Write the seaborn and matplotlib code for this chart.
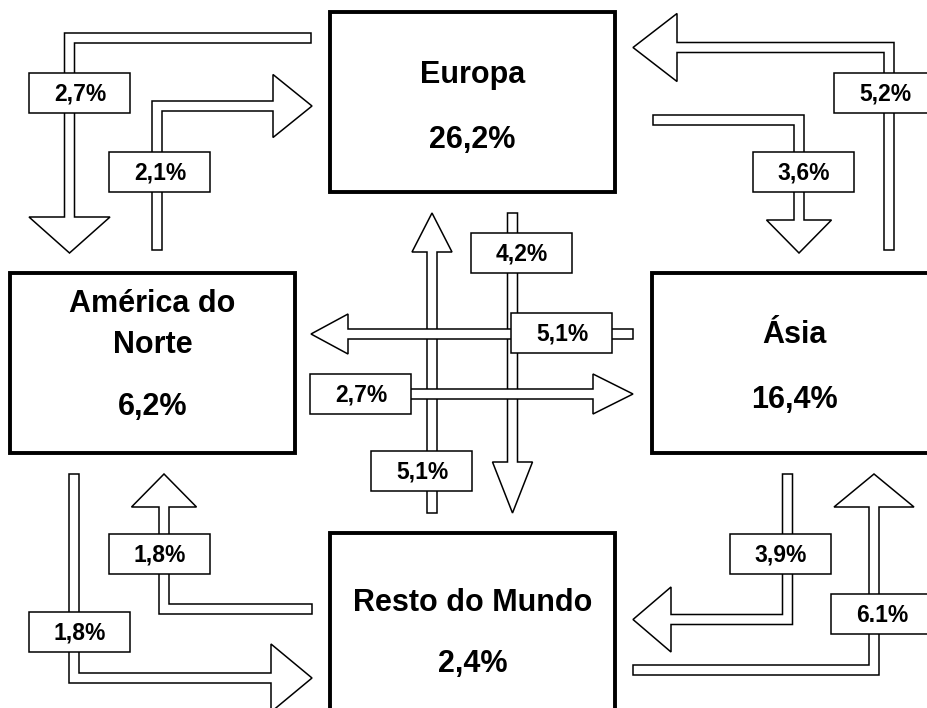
import numpy as np
import seaborn as sns
import matplotlib.pyplot as plt
from matplotlib.patches import Polygon, Rectangle

# regions and their shares
regions = ['Europa', 'América do\nNorte', 'Ásia', 'Resto do Mundo']
region_shares = ['26,2%', '6,2%', '16,4%', '2,4%']

# flows between regions
flow_from = ['Europa', 'América do\nNorte', 'Ásia', 'Europa',
             'Resto do Mundo', 'Europa', 'Ásia', 'América do\nNorte',
             'América do\nNorte', 'Resto do Mundo', 'Ásia', 'Resto do Mundo']
flow_to = ['América do\nNorte', 'Europa', 'Europa', 'Ásia',
           'Europa', 'Resto do Mundo', 'América do\nNorte', 'Ásia',
           'Resto do Mundo', 'América do\nNorte', 'Resto do Mundo', 'Ásia']
flow_values = ['2,7%', '2,1%', '5,2%', '3,6%', '5,1%', '4,2%',
               '5,1%', '2,7%', '1,8%', '1,8%', '3,9%', '6.1%']

# ---- layout (pixel coords, y down) ----
box_rect = {  # x0, y0, x1, y1
    'Europa': (330, 12, 615, 192),
    'América do\nNorte': (10, 273, 295, 453),
    'Ásia': (652, 273, 937, 453),
    'Resto do Mundo': (330, 533, 615, 713),
}
name_base = {
    'Europa': [83],
    'América do\nNorte': [312, 353],
    'Ásia': [343],
    'Resto do Mundo': [611],
}
share_base = {'Europa': 148, 'América do\nNorte': 415, 'Ásia': 408, 'Resto do Mundo': 672}

arrow_path = [
    [(311, 38), (69.5, 38), (69.5, 253)],
    [(157, 250), (157, 106), (312, 106)],
    [(889, 250), (889, 47.5), (633, 47.5)],
    [(653, 120), (799, 120), (799, 253)],
    [(432, 513), (432, 213)],
    [(512.5, 213), (512.5, 513)],
    [(633, 334), (311, 334)],
    [(330, 394), (633, 394)],
    [(74, 474), (74, 678), (312, 678)],
    [(312, 609), (164, 609), (164, 474)],
    [(787.5, 474), (787.5, 619.5), (633, 619.5)],
    [(633, 670), (874, 670), (874, 474)],
]
head_len = [36, 39, 44, 33, 39, 51, 37, 40, 41, 33, 38, 33]
head_w = [81, 63, 68, 65, 40, 40, 40, 40, 68, 65, 65, 80]
label_xy = [(80, 93), (160, 172), (885, 93), (804, 172), (422, 471), (522, 253),
            (562, 333), (361, 394), (80, 632), (160, 554), (781, 554), (882, 614)]
shaft_half = 5
lab_w, lab_h = 101, 40


def arrow_poly(pts, hl, hw, w=shaft_half):
    pts = np.asarray(pts, float)
    tip = pts[-1]
    u = pts[-1] - pts[-2]
    u = u / np.linalg.norm(u)
    base = tip - hl * u
    path = np.vstack([pts[:-1], base])
    seg = path[1:] - path[:-1]
    seg = seg / np.linalg.norm(seg, axis=1)[:, None]
    n = np.column_stack([-seg[:, 1], seg[:, 0]])

    def side(s):
        out = [path[0] + s * w * n[0]]
        for i in range(1, len(path) - 1):
            out.append(path[i] + s * w * (n[i - 1] + n[i]))
        out.append(path[-1] + s * w * n[-1])
        return out

    left, right = side(1), side(-1)
    nl = n[-1]
    return left + [base + hw / 2 * nl, tip, base - hw / 2 * nl] + right[::-1]


sns.set_theme(style='white')
plt.rcParams['font.family'] = ['Liberation Sans', 'DejaVu Sans']

fig = plt.figure(figsize=(9.28, 7.08), dpi=100)
ax = fig.add_axes([0, 0, 1, 1])
ax.set_xlim(0, 928)
ax.set_ylim(708, 0)
ax.axis('off')

for r, s in zip(regions, region_shares):
    x0, y0, x1, y1 = box_rect[r]
    ax.add_patch(Rectangle((x0, y0), x1 - x0, y1 - y0, facecolor='white',
                           edgecolor='black', lw=2.8, zorder=1))
    cx = (x0 + x1) / 2
    for line, yb in zip(r.split('\n'), name_base[r]):
        ax.text(cx, yb, line, ha='center', va='baseline', fontsize=22,
                fontweight='bold', color='black', zorder=2)
    ax.text(cx, share_base[r], s, ha='center', va='baseline', fontsize=22,
            fontweight='bold', color='black', zorder=2)

for i, v in enumerate(flow_values):
    poly = arrow_poly(arrow_path[i], head_len[i], head_w[i])
    ax.add_patch(Polygon(poly, closed=True, facecolor='white', edgecolor='black',
                         lw=1.1, joinstyle='miter', zorder=3 + i * 0.01))
    lx, ly = label_xy[i]
    ax.add_patch(Rectangle((lx - lab_w / 2, ly - lab_h / 2), lab_w, lab_h,
                           facecolor='white', edgecolor='black', lw=1.1, zorder=5))
    ax.text(lx, ly + 1, v, ha='center', va='center', fontsize=16.5,
            fontweight='bold', color='black', zorder=6)

fig.savefig('out.png', dpi=100, facecolor='white')
